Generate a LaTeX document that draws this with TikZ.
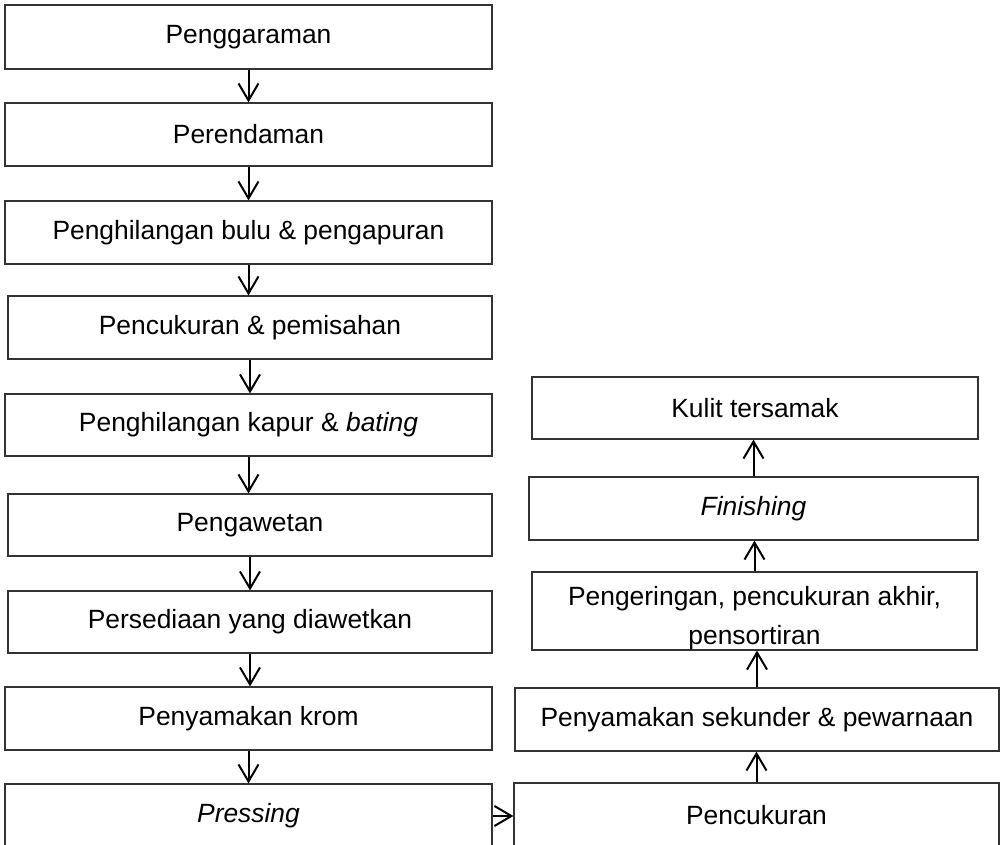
\documentclass[tikz,border=0pt]{standalone}
\usepackage{fontspec}
\setmainfont{Liberation Sans}
\usetikzlibrary{arrows.meta}

\tikzset{
  stage/.style={draw=black!80, line width=0.6pt, minimum height=31.5pt, inner sep=0pt,
    font=\fontsize{13.2}{19.8}\selectfont},
  flow/.style={-{Straight Barb[length=8.5pt,width=10pt,line width=1pt]}, line width=1pt},
}

\begin{document}
\begin{tikzpicture}[x=0.5pt, y=-0.5pt]
\useasboundingbox (0,0) rectangle (1003,845);
\clip (0,0) rectangle (1003,845);

% left column, top to bottom
\node[stage, minimum width=243.5pt, minimum height=32pt] (pgr) at (248.5,37) {Penggaraman};
\node[stage, minimum width=243.5pt] (rnd) at (248.5,134.5) {Perendaman};
\node[stage, minimum width=243.5pt] (bulu) at (248.5,232.5) {Penghilangan bulu \& pengapuran};
\node[stage, minimum width=242pt] (pisah) at (250,327.5) {Pencukuran \& pemisahan};
\node[stage, minimum width=243.5pt, minimum height=31pt] (kapur) at (248.5,425) {Penghilangan kapur \& \textit{bating}};
\node[stage, minimum width=242pt, minimum height=31pt] (awet) at (250,525) {Pengawetan};
\node[stage, minimum width=242pt, minimum height=31pt] (sedia) at (250,622) {Persediaan yang diawetkan};
\node[stage, minimum width=243.5pt] (krom) at (248.5,718.5) {Penyamakan krom};
\node[stage, minimum width=243.5pt, minimum height=32pt] (press) at (248.5,816) {\textit{Pressing}};

\draw[flow] (pgr.south) -- (pgr.south |- rnd.north);
\draw[flow] (rnd.south) -- (rnd.south |- bulu.north);
\draw[flow] (bulu.south) -- (bulu.south |- pisah.north);
\draw[flow] (pisah.south) -- (pisah.south |- kapur.north);
\draw[flow] (kapur.south) -- (kapur.south |- awet.north);
\draw[flow] (awet.south) -- (awet.south |- sedia.north);
\draw[flow] (sedia.south) -- (sedia.south |- krom.north);
\draw[flow] (krom.south) -- (krom.south |- press.north);

% right column, bottom to top
\node[stage, minimum width=242.5pt, minimum height=32pt] (cukur) at (756.5,815) {Pencukuran};
\node[stage, minimum width=242pt] (sekunder) at (757,719.5) {Penyamakan sekunder \& pewarnaan};
\node[stage, minimum width=222.5pt, minimum height=39pt] (kering) at (754.5,611) {};
\begin{scope}
  \clip (kering.south west) rectangle (kering.north east);
  \node[font=\fontsize{13.2}{19.5}\selectfont, align=center, inner sep=0pt, anchor=base]
    (keringtxt) at (754.5,645) {Pengeringan, pencukuran akhir,\\pensortiran};
\end{scope}
\node[stage, minimum width=224.5pt] (fin) at (753.5,508.5) {\textit{Finishing}};
\node[stage, minimum width=223pt, minimum height=31pt] (kulit) at (755,408) {Kulit tersamak};

\draw[flow] (press.east) -- (press.east -| cukur.west);
\draw[flow] (cukur.north) -- (cukur.north |- sekunder.south);
\draw[flow] (sekunder.north) -- (sekunder.north |- kering.south);
\draw[flow] (kering.north) -- (kering.north |- fin.south);
\draw[flow] (fin.north) -- (fin.north |- kulit.south);
\end{tikzpicture}
\end{document}
